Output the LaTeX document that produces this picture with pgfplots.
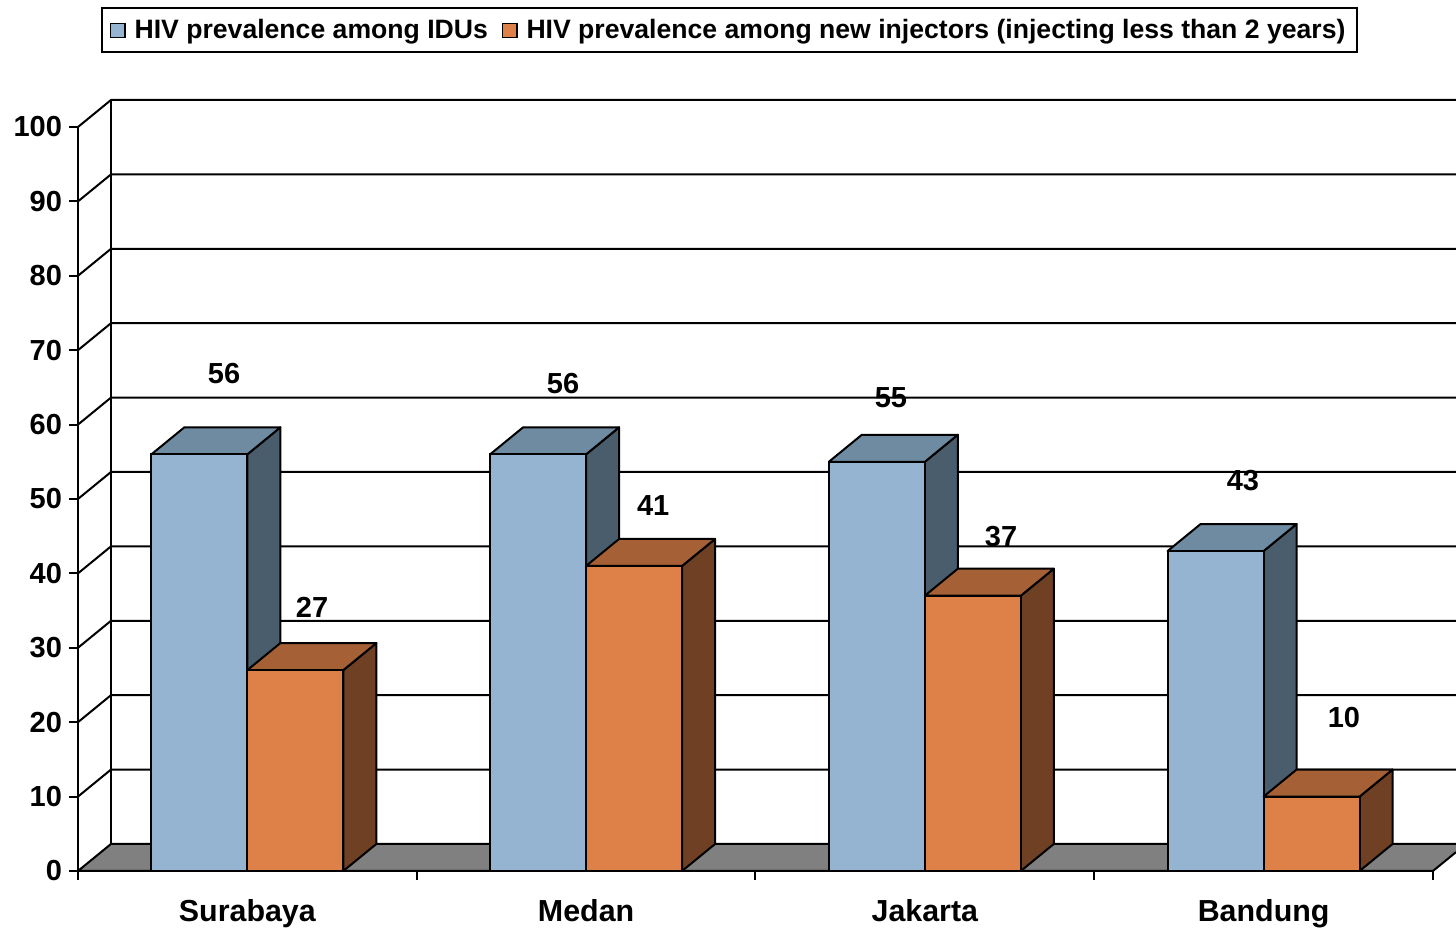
\documentclass[border=0pt]{standalone}
\usepackage{pgfplots}
\usepackage{pgfplotstable}
\pgfplotsset{compat=1.18}
\usepackage{fontspec}
\setmainfont{Liberation Sans}

\definecolor{bfront}{RGB}{149,180,210}
\definecolor{btop}{RGB}{111,139,161}
\definecolor{bside}{RGB}{74,93,109}
\definecolor{ofront}{RGB}{221,129,73}
\definecolor{otop}{RGB}{166,96,54}
\definecolor{oside}{RGB}{112,64,36}
\definecolor{floorgray}{RGB}{128,128,128}

\pgfplotstableread{
x idu new
0.5 56 27
1.5 56 41
2.5 55 37
3.5 43 10
}\datatable

\newcommand{\lbl}{\fontsize{14.5}{17}\selectfont\bfseries}
\newcommand{\catlbl}{\fontsize{15.2}{18}\selectfont\bfseries}

% side and top faces of a 3-D bar: #1 left x of the front face, #2 value, #3 top colour, #4 side colour
\newcommand{\boxfaces}[4]{%
  \pgfmathsetmacro\xB{#1+0.2834}%
  \pgfmathsetmacro\xC{#1+0.0974}%
  \pgfmathsetmacro\xD{#1+0.3808}%
  \pgfmathsetmacro\yT{#2+3.63}%
  \edef\tmp{\noexpand\addplot[fill=#4, draw=black, line width=1pt, line join=round, forget plot] coordinates {(\xB,0) (\xD,3.63) (\xD,\yT) (\xB,#2)} -- cycle;
  \noexpand\addplot[fill=#3, draw=black, line width=1pt, line join=round, forget plot] coordinates {(#1,#2) (\xB,#2) (\xD,\yT) (\xC,\yT)} -- cycle;}%
  \tmp
}

\begin{document}
\begin{tikzpicture}
\begin{axis}[
  x=169.375pt, y=3.72pt,
  xmin=0, xmax=4, ymin=0, ymax=100,
  clip=false,
  axis x line*=bottom, axis y line*=left,
  axis line style={line width=1pt},
  xtick={0,1,2,3,4},
  x tick label as interval,
  xticklabels={Surabaya,Medan,Jakarta,Bandung},
  ytick={0,10,...,100},
  tick align=outside,
  major tick length=4.5pt,
  tick style={black, line width=1pt},
  /pgf/number format/assume math mode=true,
  yticklabel style={font=\lbl},
  xticklabel style={font=\catlbl, yshift=-6pt},
  legend style={at={(0.481,1.161)}, anchor=north, draw=black, line width=1pt,
    font=\fontsize{13.3}{15}\selectfont\bfseries, inner xsep=4pt, inner ysep=3.5pt,
    /tikz/every odd column/.append style={column sep=2.5pt},
    /tikz/every even column/.append style={column sep=5pt}},
  legend columns=2,
  legend image code/.code={\draw[#1, draw=black, line width=0.6pt] (0pt,-3.6pt) rectangle (7.2pt,3.6pt);},
]
% floor
\addplot[fill=floorgray, draw=none, forget plot] coordinates {(0,0) (4,0) (4.068,2.53) (4.068,3.63) (0.0974,3.63)} -- cycle;
\addplot[black, line width=1pt, forget plot] coordinates {(4.068,2.53) (4,0) (0,0) (0.0974,3.63) (4.068,3.63)};
% walls and gridlines
\addplot[black, line width=1pt, forget plot] coordinates {(0.0974,3.63) (0.0974,103.63)};
\pgfplotsforeachungrouped \v in {10,20,...,100}{%
  \pgfmathsetmacro\vv{\v+3.63}%
  \edef\tmp{\noexpand\addplot[black, line width=1pt, forget plot] coordinates {(0,\v) (0.0974,\vv) (4.068,\vv)};}\tmp
}
% blue boxes
\pgfplotsforeachungrouped \i in {0,1,2,3}{%
  \pgfplotstablegetelem{\i}{x}\of\datatable \let\cx\pgfplotsretval
  \pgfplotstablegetelem{\i}{idu}\of\datatable \let\cv\pgfplotsretval
  \pgfmathsetmacro\lx{\cx-0.2834}%
  \boxfaces{\lx}{\cv}{btop}{bside}%
}
\addplot[ybar, bar width=0.2834, bar shift=-0.1417, fill=bfront, draw=black, line width=1pt, forget plot] table[x=x, y=idu]{\datatable};
% orange boxes
\pgfplotsforeachungrouped \i in {0,1,2,3}{%
  \pgfplotstablegetelem{\i}{x}\of\datatable \let\cx\pgfplotsretval
  \pgfplotstablegetelem{\i}{new}\of\datatable \let\cv\pgfplotsretval
  \boxfaces{\cx}{\cv}{otop}{oside}%
}
\addplot[ybar, bar width=0.2834, bar shift=0.1417, fill=ofront, draw=black, line width=1pt, forget plot] table[x=x, y=new]{\datatable};
% legend
\addlegendimage{fill=bfront}
\addlegendentry{HIV prevalence among IDUs}
\addlegendimage{fill=ofront}
\addlegendentry{HIV prevalence among new injectors (injecting less than 2 years)}
% value labels
\node[font=\lbl] at (axis cs:0.431,66.8) {56};
\node[font=\lbl] at (axis cs:0.691,35.48) {27};
\node[font=\lbl] at (axis cs:1.432,65.46) {56};
\node[font=\lbl] at (axis cs:1.698,49.06) {41};
\node[font=\lbl] at (axis cs:2.400,63.58) {55};
\node[font=\lbl] at (axis cs:2.725,44.89) {37};
\node[font=\lbl] at (axis cs:3.439,52.42) {43};
\node[font=\lbl] at (axis cs:3.737,20.56) {10};
\coordinate (bbsw) at (axis cs:-0.2303,-7.93);
\coordinate (bbne) at (axis cs:4.068,117.07);
\end{axis}
\pgfresetboundingbox
\useasboundingbox (bbsw) rectangle (bbne);
\end{tikzpicture}
\end{document}
